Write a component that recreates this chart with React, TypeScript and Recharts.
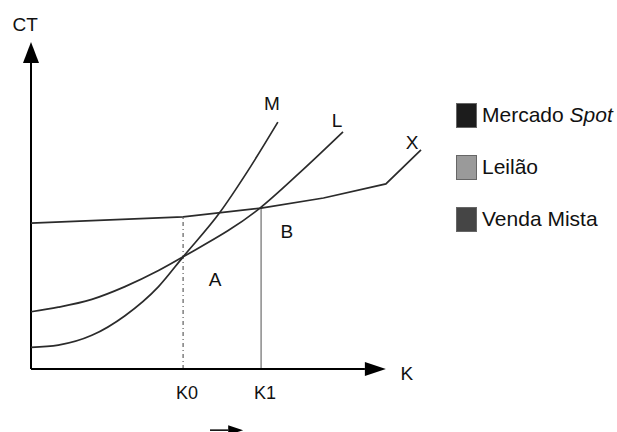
import React from "react";
import { LineChart, Line, XAxis, YAxis, ReferenceLine, ReferenceDot, LabelList } from "recharts";

// curves (k = capacity, ct = total cost, both 0..100)
const mCurve = [
  { k: 0, ct: 6.6 }, { k: 7, ct: 7.3 }, { k: 15.6, ct: 10.3 }, { k: 24.1, ct: 16.3 },
  { k: 32.7, ct: 25.2 }, { k: 39, ct: 34.3 }, { k: 48.5, ct: 48.0 }, { k: 55.4, ct: 60.2 },
  { k: 63.3, ct: 75.5 },
];
const lCurve = [
  { k: 0, ct: 17.5 }, { k: 7, ct: 18.9 }, { k: 15.6, ct: 21.3 }, { k: 24.1, ct: 25.2 },
  { k: 32.7, ct: 30.1 }, { k: 39, ct: 34.3 }, { k: 58.7, ct: 49.2 }, { k: 68.7, ct: 59.8 },
  { k: 80, ct: 72.5 },
];
const xCurve = [
  { k: 0, ct: 44.6 }, { k: 39, ct: 46.5 }, { k: 59, ct: 49.2 }, { k: 75, ct: 52.3 },
  { k: 91, ct: 56.6 }, { k: 100, ct: 67 },
];
const kTicks = [39, 59];
const kTickLabels = ["K0", "K1"];
const axisEnd = { k: 91, ct: 100 };
const axisNames = [{ text: "CT", k: -1.5, ct: 105.2 }, { text: "K", k: 96.4, ct: -1.5 }];
const areaLabels = [{ text: "A", k: 47.2, ct: 27.5 }, { text: "B", k: 65.6, ct: 41.9 }];
const hintArrow = { from: 45.9, to: 54.4, ct: -18.7 };
const legendItems = [
  { name: "Mercado", em: "Spot", color: "#1c1c1c" },
  { name: "Leilão", em: "", color: "#9a9a9a" },
  { name: "Venda Mista", em: "", color: "#454545" },
];

const FONT = "'Liberation Sans', Arial, sans-serif";
const INK = "#2b2b2b";

const series = [
  { name: "M", data: mCurve, type: "monotone", dx: -6, dy: -19 },
  { name: "L", data: lCurve, type: "monotone", dx: -6, dy: -11 },
  { name: "X", data: xCurve, type: "linear", dx: -9, dy: -7 },
];

const arrow = (head: number, half: number, width: number) => (p: any) => {
  const { x1, y1, x2, y2 } = p;
  const len = Math.hypot(x2 - x1, y2 - y1) || 1;
  const ux = (x2 - x1) / len, uy = (y2 - y1) / len;
  const bx = x2 - ux * head, by = y2 - uy * head;
  const nx = -uy * half, ny = ux * half;
  return (
    <g>
      <line x1={x1} y1={y1} x2={bx} y2={by} stroke="#000" strokeWidth={width} />
      <polygon points={`${x2},${y2} ${bx + nx},${by + ny} ${bx - nx},${by - ny}`} fill="#000" />
    </g>
  );
};

const textDot = (text: string, size: number) => (p: any) => (
  <text x={p.cx} y={p.cy} textAnchor="middle" dominantBaseline="central" fontSize={size} fontFamily={FONT} fill="#111">
    {text}
  </text>
);

const KTick = (p: any) => (
  <text x={p.x + 4} y={p.y + 16} textAnchor="middle" dominantBaseline="central" fontSize={18} fontFamily={FONT} fill="#111">
    {kTickLabels[kTicks.indexOf(p.payload.value)]}
  </text>
);

const dropAt = (k: number) => xCurve.find((d) => d.k === k)?.ct ?? 0;

export default function App() {
  return (
    <div style={{ position: "absolute", left: 0, top: 0, width: 617, height: 432, background: "#fff" }}>
      <LineChart width={617} height={432} margin={{ top: 42, right: 196, bottom: 33, left: 31 }}>
        <XAxis type="number" dataKey="k" domain={[0, 100]} ticks={kTicks} axisLine={false} tickLine={false} tick={<KTick />} height={30} interval={0} />
        <YAxis type="number" domain={[0, 100]} hide />
        <ReferenceLine segment={[{ x: kTicks[0], y: 0 }, { x: kTicks[0], y: dropAt(kTicks[0]) }]} stroke="#6b6b6b" strokeWidth={1.3} strokeDasharray="4 3 1 3" ifOverflow="visible" />
        <ReferenceLine segment={[{ x: kTicks[1], y: 0 }, { x: kTicks[1], y: dropAt(kTicks[1]) }]} stroke="#8a8a8a" strokeWidth={1.5} ifOverflow="visible" />
        <ReferenceLine segment={[{ x: 0, y: 0 }, { x: 0, y: axisEnd.ct }]} shape={arrow(21, 8, 2)} ifOverflow="visible" />
        <ReferenceLine segment={[{ x: 0, y: 0 }, { x: axisEnd.k, y: 0 }]} shape={arrow(21, 7, 2)} ifOverflow="visible" />
        <ReferenceLine segment={[{ x: hintArrow.from, y: hintArrow.ct }, { x: hintArrow.to, y: hintArrow.ct }]} shape={arrow(15, 5, 1.5)} ifOverflow="visible" />
        {series.map((s) => (
          <Line key={s.name} data={s.data} dataKey="ct" type={s.type as any} stroke={INK} strokeWidth={1.7} dot={false} isAnimationActive={false}>
            <LabelList
              dataKey="ct"
              content={(p: any) =>
                p.index === s.data.length - 1 ? (
                  <text x={p.x + s.dx} y={p.y + s.dy} textAnchor="middle" dominantBaseline="central" fontSize={19} fontFamily={FONT} fill="#111">
                    {s.name}
                  </text>
                ) : null
              }
            />
          </Line>
        ))}
        {[...axisNames, ...areaLabels].map((t) => (
          <ReferenceDot key={t.text} x={t.k} y={t.ct} r={0} ifOverflow="visible" shape={textDot(t.text, 19)} />
        ))}
      </LineChart>
      <div style={{ position: "absolute", left: 456, top: 103, display: "flex", flexDirection: "column", gap: 28, fontFamily: FONT, fontSize: 21, color: "#111" }}>
        {legendItems.map((it) => (
          <div key={it.name} style={{ display: "flex", alignItems: "center", height: 24 }}>
            <span style={{ width: 19, height: 23, background: it.color, border: "1px solid #666", marginRight: 5, boxSizing: "content-box", display: "inline-block" }} />
            <span style={{ whiteSpace: "nowrap" }}>
              {it.name}
              {it.em ? <> <i>{it.em}</i></> : null}
            </span>
          </div>
        ))}
      </div>
    </div>
  );
}
